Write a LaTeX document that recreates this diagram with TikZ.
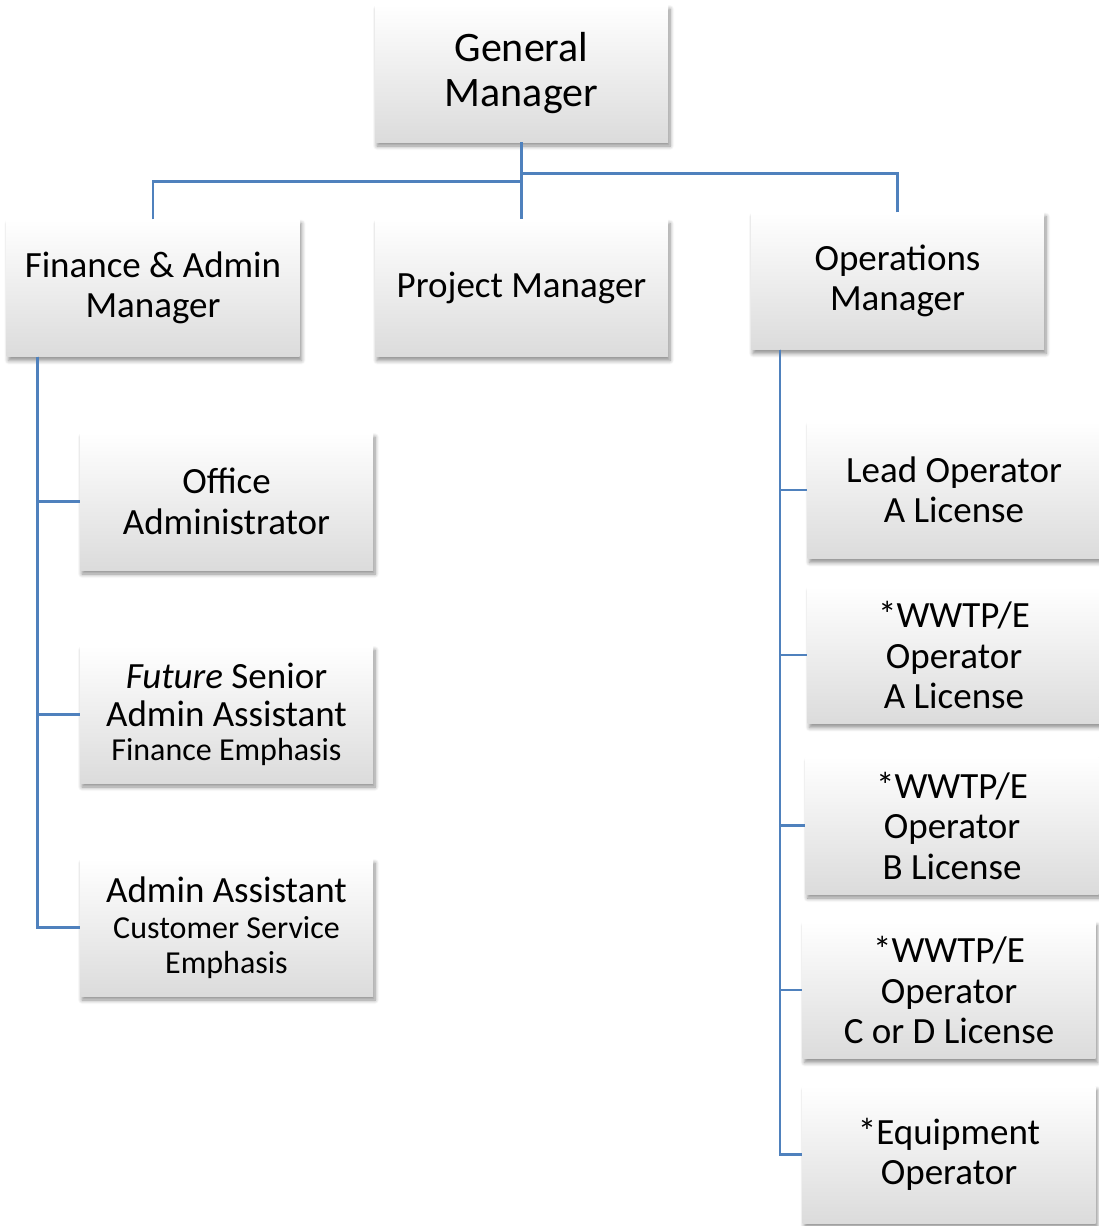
\documentclass[tikz,border=0pt]{standalone}
\usepackage{fontspec}
\setmainfont{Carlito}
\usetikzlibrary{shadows.blur}

\definecolor{linkblue}{RGB}{79,129,189}
\tikzset{
  post/.style={rectangle, minimum width=293pt, minimum height=137pt, inner sep=0pt,
    top color=white, middle color=white, bottom color=black!14,
    blur shadow={shadow xshift=2pt, shadow yshift=-4pt, shadow blur steps=6, shadow blur radius=4pt, shadow opacity=45},
    align=center, font=\fontsize{37}{40.5}\selectfont},
  link/.style={draw=linkblue, line width=2.6pt}
}
\newcommand{\smalltxt}{\fontsize{32}{35}\selectfont}

\begin{document}
\begin{tikzpicture}[x=1pt,y=-1pt]
\useasboundingbox (0,0) rectangle (1099,1226);

%top rows
\node[post, font=\fontsize{42}{45}\selectfont] (gm) at (521.5,73.5) {General\\Manager};
\node[post] (fin)  at (153,288)   {Finance \& Admin\\Manager};
\node[post] (proj) at (521.5,288) {Project Manager};
\node[post] (ops)  at (897.5,281) {Operations\\Manager};

%finance side
\node[post] (office) at (226.5,501.5) {Office\\Administrator};
\node[post] (future) at (226.5,714.5) {\textit{Future} Senior\\[-3pt]Admin Assistant\\[-6pt]{\smalltxt Finance Emphasis}};
\node[post] (admin)  at (226.5,927.5) {Admin Assistant\\[-4pt]{\smalltxt Customer Service}\\[-6pt]{\smalltxt Emphasis}};

%operations side
\node[post] (lead)  at (954,490)    {Lead Operator\\A License};
\node[post] (wwtpa) at (954,655)    {*WWTP/E\\Operator\\A License};
\node[post] (wwtpb) at (952,825.5)  {*WWTP/E\\Operator\\B License};
\node[post] (wwtpc) at (949,990)    {*WWTP/E\\Operator\\C or D License};
\node[post] (equip) at (949,1154.5) {*Equipment\\Operator};

%links
\draw[link] (gm.south) -- (proj.north);
\draw[link] (fin.north) -- ++(0,-38) -| (gm.south);
\draw[link] (ops.north) -- ++(0,-39) -| (gm.south);
\foreach \n in {office,future,admin}
  \draw[link] ([xshift=31pt]fin.south west) |- (\n.west);
\foreach \n in {lead,wwtpa,wwtpb,wwtpc,equip}
  \draw[link] ([xshift=29pt]ops.south west) |- (\n.west);

\end{tikzpicture}
\end{document}
